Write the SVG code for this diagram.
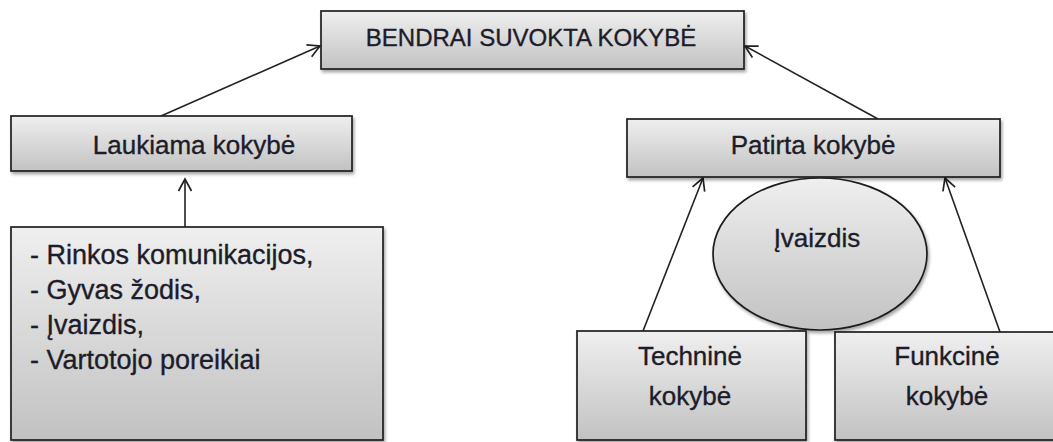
<svg xmlns="http://www.w3.org/2000/svg" width="1053" height="442" viewBox="0 0 1053 442">
  <defs>
    <linearGradient id="boxFill" x1="0" y1="0" x2="0" y2="1">
      <stop offset="0" stop-color="#efefef"/>
      <stop offset="1" stop-color="#c2c2c2"/>
    </linearGradient>
    <filter id="shadow" x="-5%" y="-10%" width="110%" height="125%">
      <feDropShadow dx="1.5" dy="2.5" stdDeviation="1.5" flood-color="#000" flood-opacity="0.35"/>
    </filter>
    <marker id="openArrow" markerWidth="16" markerHeight="16" refX="13" refY="8" orient="auto" markerUnits="userSpaceOnUse">
      <path d="M1,1.5 L13,8 L1,14.5" fill="none" stroke="#222" stroke-width="1.7"/>
    </marker>
  </defs>
  <style>
    .box { fill: url(#boxFill); stroke: #1e1e1e; stroke-width: 1.7; filter: url(#shadow); }
    .lbl { font-family: "Liberation Sans", Arial, sans-serif; font-size: 25px; fill: #1c1c2a; stroke: #1c1c2a; stroke-width: 0.35; }
    .mid { text-anchor: middle; }
    .edge { stroke: #222; stroke-width: 1.6; fill: none; marker-end: url(#openArrow); }
  </style>

  <rect width="1053" height="442" fill="#ffffff"/>

  <!-- connectors -->
  <g id="connectors">
    <line class="edge" x1="161" y1="116" x2="320" y2="46"/>
    <line class="edge" x1="878" y1="119" x2="745" y2="46"/>
    <line class="edge" x1="185" y1="227" x2="185" y2="179"/>
    <line class="edge" x1="643" y1="331" x2="703" y2="178"/>
    <line class="edge" x1="1000" y1="332" x2="945" y2="178"/>
  </g>

  <g id="bendrai">
    <rect class="box" x="321" y="11" width="423" height="58"/>
    <text class="lbl mid" x="531" y="46" style="font-size:24px">BENDRAI SUVOKTA KOKYBĖ</text>
  </g>

  <g id="laukiama">
    <rect class="box" x="11" y="116" width="341" height="55"/>
    <text class="lbl mid" x="194" y="154" style="font-size:26px">Laukiama kokybė</text>
  </g>

  <g id="patirta">
    <rect class="box" x="627" y="119" width="373" height="58"/>
    <text class="lbl mid" x="813" y="154" style="font-size:26px">Patirta kokybė</text>
  </g>

  <g id="veiksniai">
    <rect class="box" x="11" y="227" width="372" height="213"/>
    <text class="lbl" x="30" y="264" style="font-size:27px">- Rinkos komunikacijos,</text>
    <text class="lbl" x="30" y="299" style="font-size:27px">- Gyvas žodis,</text>
    <text class="lbl" x="30" y="334" style="font-size:27px">- Įvaizdis,</text>
    <text class="lbl" x="30" y="369" style="font-size:27px">- Vartotojo poreikiai</text>
  </g>

  <g id="ivaizdis">
    <ellipse class="box" cx="820" cy="254" rx="107" ry="76"/>
    <text class="lbl mid" x="817" y="247" style="font-size:26px">Įvaizdis</text>
  </g>

  <g id="technine">
    <rect class="box" x="577" y="331" width="229" height="109"/>
    <text class="lbl mid" x="690" y="365" style="font-size:26px">Techninė</text>
    <text class="lbl mid" x="690" y="405" style="font-size:26px">kokybė</text>
  </g>

  <g id="funkcine">
    <rect class="box" x="835" y="332" width="230" height="108"/>
    <text class="lbl mid" x="947" y="365" style="font-size:26px">Funkcinė</text>
    <text class="lbl mid" x="947" y="405" style="font-size:26px">kokybė</text>
  </g>
</svg>
